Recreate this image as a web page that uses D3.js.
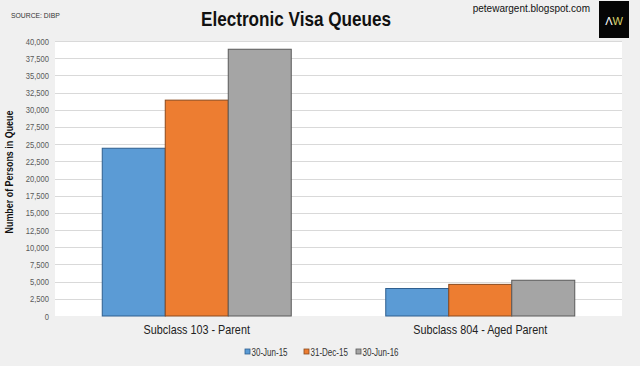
<!DOCTYPE html>
<html><head><meta charset="utf-8">
<script src="https://cdn.jsdelivr.net/npm/d3@7"></script>
<style>html,body{margin:0;padding:0;background:#f0f0f0;}svg{display:block;}</style>
</head><body>
<svg id="chart" width="640" height="366"></svg>
<script>
const categories = ["Subclass 103 - Parent", "Subclass 804 - Aged Parent"];
const seriesNames = ["30-Jun-15", "31-Dec-15", "30-Jun-16"];
const jun15 = [24400, 4000];
const dec15 = [31400, 4600];
const jun16 = [38800, 5200];
const yTicks = [0,2500,5000,7500,10000,12500,15000,17500,20000,22500,25000,27500,30000,32500,35000,37500,40000];
const colors = ["#5b9bd5", "#ed7d31", "#a5a5a5"];
const strokes = ["#2f5f8f", "#8a4a1e", "#5a5a5a"];

const series = [jun15, dec15, jun16];
const svg = d3.select("#chart");
const W = 640, H = 366;
const m = {left: 55, right: 18, top: 41, bottom: 50};
const pw = 622 - 55, ph = 316 - 41;
const FONT = "'Liberation Sans', Arial, sans-serif";

function condense(sel, f) {
  sel.each(function() {
    const len = this.getComputedTextLength();
    d3.select(this).attr("textLength", len * f).attr("lengthAdjust", "spacingAndGlyphs");
  });
}

svg.append("rect").attr("width", W).attr("height", H).attr("fill", "#f0f0f0");

const g = svg.append("g").attr("transform", `translate(${m.left},${m.top})`);
g.append("rect").attr("width", pw).attr("height", ph).attr("fill", "#ffffff");

const y = d3.scaleLinear().domain([0, 40000]).range([ph, 0]);
const x0 = d3.scaleBand().domain(categories).range([0, pw]).paddingInner(1/3).paddingOuter(1/6);
const x1 = d3.scaleBand().domain(seriesNames).range([0, x0.bandwidth()]);

// gridlines
g.append("g").selectAll("line").data(yTicks.filter(d => d > 0)).join("line")
  .attr("x1", 0).attr("x2", pw)
  .attr("y1", d => Math.round(y(d)) + 0.5).attr("y2", d => Math.round(y(d)) + 0.5)
  .attr("stroke", "#d9d9d9").attr("stroke-width", 1);

// y axis labels
const yAxis = d3.axisLeft(y).tickValues(yTicks).tickFormat(d3.format(",")).tickSize(0).tickPadding(6);
const ya = g.append("g").call(yAxis);
ya.select(".domain").remove();
ya.selectAll("text").attr("font-family", FONT)
  .attr("font-size", 9.5).attr("fill", "#595959").call(condense, 0.8);

// bars
const groups = g.append("g").selectAll("g").data(categories).join("g")
  .attr("transform", d => `translate(${x0(d)},0)`);
groups.selectAll("rect").data((c, ci) => seriesNames.map((s, si) => ({s, si, v: series[si][ci]}))).join("rect")
  .attr("x", d => x1(d.s)).attr("width", x1.bandwidth())
  .attr("y", d => y(d.v)).attr("height", d => ph - y(d.v))
  .attr("fill", d => colors[d.si]).attr("stroke", d => strokes[d.si]).attr("stroke-width", 1);

// x axis labels
const xAxis = d3.axisBottom(x0).tickSize(0).tickPadding(8);
const xa = g.append("g").attr("transform", `translate(0,${ph})`).call(xAxis);
xa.select(".domain").remove();
xa.selectAll("text").attr("font-family", FONT)
  .attr("font-size", 13.5).attr("fill", "#222").call(condense, 0.8);

// y axis title
svg.append("text").attr("transform", "translate(13,172) rotate(-90)")
  .attr("text-anchor", "middle").attr("font-family", FONT)
  .attr("font-weight", "bold").attr("font-size", 10).attr("fill", "#111")
  .attr("textLength", 123).attr("lengthAdjust", "spacingAndGlyphs")
  .text("Number of Persons in Queue");

// title
svg.append("text").attr("x", 296).attr("y", 26).attr("text-anchor", "middle")
  .attr("font-family", FONT)
  .attr("font-weight", "bold").attr("font-size", 21).attr("fill", "#111")
  .attr("textLength", 190).attr("lengthAdjust", "spacingAndGlyphs")
  .text("Electronic Visa Queues");

// source
svg.append("text").attr("x", 11).attr("y", 18)
  .attr("font-family", FONT)
  .attr("font-size", 8).attr("fill", "#333")
  .text("SOURCE: DIBP").call(condense, 0.85);

// website
svg.append("text").attr("x", 590).attr("y", 12).attr("text-anchor", "end")
  .attr("font-family", FONT)
  .attr("font-size", 10).attr("fill", "#111")
  .text("petewargent.blogspot.com");

// logo
svg.append("rect").attr("x", 599).attr("y", 1).attr("width", 30).attr("height", 37).attr("fill", "#050505");
const logo = svg.append("text").attr("x", 614).attr("y", 25).attr("text-anchor", "middle")
  .attr("font-family", FONT).attr("font-size", 11);
logo.append("tspan").attr("fill", "#ffffff").text("Λ");
logo.append("tspan").attr("fill", "#d8d46a").text("W");

// legend
const legendX = [245, 304, 356];
const lg = svg.append("g").selectAll("g").data(seriesNames).join("g")
  .attr("transform", (d, i) => `translate(${legendX[i]},349)`);
lg.append("rect").attr("x", 0).attr("y", 0).attr("width", 5).attr("height", 5)
  .attr("fill", (d, i) => colors[i]).attr("stroke", (d, i) => strokes[i]).attr("stroke-width", 0.8);
lg.append("text").attr("x", 6.5).attr("y", 6.5)
  .attr("font-family", FONT)
  .attr("font-size", 10).attr("fill", "#333").text(d => d).call(condense, 0.8);
</script>
</body></html>
